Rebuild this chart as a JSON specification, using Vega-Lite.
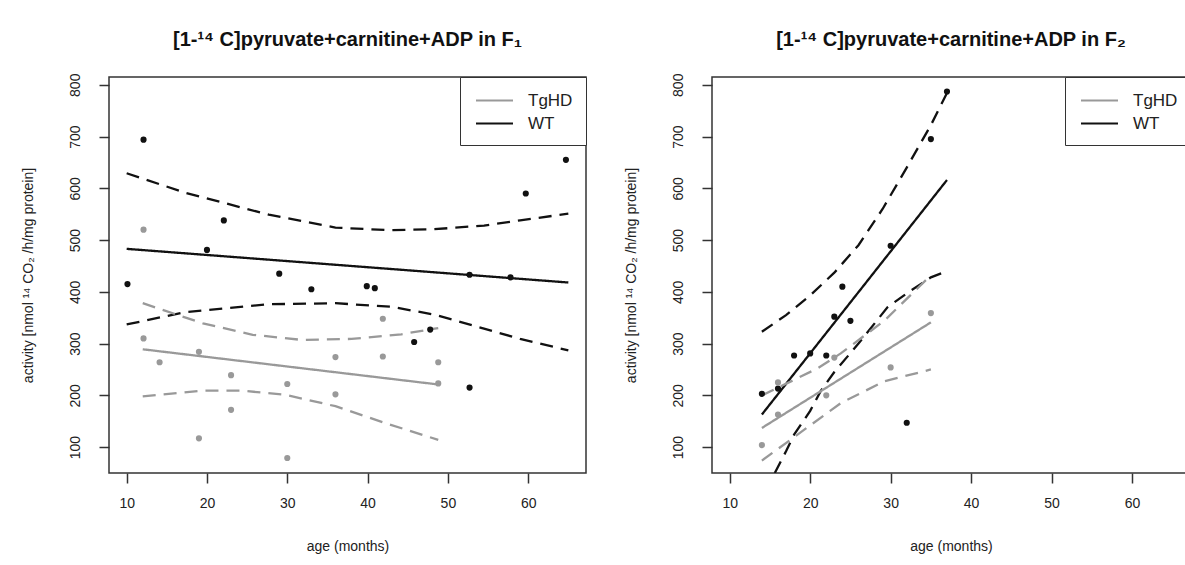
{
  "$schema": "https://vega.github.io/schema/vega-lite/v6.json",
  "background": "white",
  "padding": {"left": 20, "top": 28, "right": 0, "bottom": 0},
  "datasets": {
    "f1_points": [
      {"group": "WT", "age": 10.1, "activity": 415},
      {"group": "WT", "age": 12.1, "activity": 694},
      {"group": "WT", "age": 20, "activity": 481},
      {"group": "WT", "age": 22.1, "activity": 538},
      {"group": "WT", "age": 29, "activity": 435},
      {"group": "WT", "age": 33, "activity": 405},
      {"group": "WT", "age": 39.9, "activity": 411},
      {"group": "WT", "age": 40.9, "activity": 407},
      {"group": "WT", "age": 45.8, "activity": 303},
      {"group": "WT", "age": 47.8, "activity": 327},
      {"group": "WT", "age": 52.7, "activity": 433},
      {"group": "WT", "age": 52.7, "activity": 215},
      {"group": "WT", "age": 57.8, "activity": 428},
      {"group": "WT", "age": 59.7, "activity": 590},
      {"group": "WT", "age": 64.7, "activity": 655},
      {"group": "TgHD", "age": 12.1, "activity": 520},
      {"group": "TgHD", "age": 12.1, "activity": 310},
      {"group": "TgHD", "age": 14.1, "activity": 264},
      {"group": "TgHD", "age": 19, "activity": 284},
      {"group": "TgHD", "age": 19, "activity": 117},
      {"group": "TgHD", "age": 23, "activity": 239},
      {"group": "TgHD", "age": 23, "activity": 172},
      {"group": "TgHD", "age": 30, "activity": 222},
      {"group": "TgHD", "age": 30, "activity": 79},
      {"group": "TgHD", "age": 36, "activity": 274},
      {"group": "TgHD", "age": 36, "activity": 202},
      {"group": "TgHD", "age": 41.9, "activity": 348},
      {"group": "TgHD", "age": 41.9, "activity": 275},
      {"group": "TgHD", "age": 48.8, "activity": 264},
      {"group": "TgHD", "age": 48.8, "activity": 223}
    ],
    "f1_lines": [
      {"group": "WT", "band": "fit", "age": 10, "activity": 483},
      {"group": "WT", "band": "fit", "age": 65, "activity": 418},
      {"group": "WT", "band": "hi", "age": 10, "activity": 629},
      {"group": "WT", "band": "hi", "age": 17.4, "activity": 591},
      {"group": "WT", "band": "hi", "age": 27.7, "activity": 549},
      {"group": "WT", "band": "hi", "age": 36, "activity": 524},
      {"group": "WT", "band": "hi", "age": 43, "activity": 519},
      {"group": "WT", "band": "hi", "age": 48.3, "activity": 521},
      {"group": "WT", "band": "hi", "age": 54.5, "activity": 528},
      {"group": "WT", "band": "hi", "age": 59, "activity": 538},
      {"group": "WT", "band": "hi", "age": 65, "activity": 551},
      {"group": "WT", "band": "lo", "age": 10, "activity": 337},
      {"group": "WT", "band": "lo", "age": 17.4, "activity": 361},
      {"group": "WT", "band": "lo", "age": 27.7, "activity": 376},
      {"group": "WT", "band": "lo", "age": 36, "activity": 378},
      {"group": "WT", "band": "lo", "age": 43, "activity": 371},
      {"group": "WT", "band": "lo", "age": 48.3, "activity": 356},
      {"group": "WT", "band": "lo", "age": 54.5, "activity": 329},
      {"group": "WT", "band": "lo", "age": 59, "activity": 309},
      {"group": "WT", "band": "lo", "age": 65, "activity": 287},
      {"group": "TgHD", "band": "fit", "age": 12, "activity": 289},
      {"group": "TgHD", "band": "fit", "age": 48.8, "activity": 221},
      {"group": "TgHD", "band": "hi", "age": 12, "activity": 378},
      {"group": "TgHD", "band": "hi", "age": 19.5, "activity": 339},
      {"group": "TgHD", "band": "hi", "age": 25.7, "activity": 317},
      {"group": "TgHD", "band": "hi", "age": 31.9, "activity": 307},
      {"group": "TgHD", "band": "hi", "age": 38, "activity": 309},
      {"group": "TgHD", "band": "hi", "age": 44.2, "activity": 318},
      {"group": "TgHD", "band": "hi", "age": 48.8, "activity": 330},
      {"group": "TgHD", "band": "lo", "age": 12, "activity": 198},
      {"group": "TgHD", "band": "lo", "age": 19.5, "activity": 209},
      {"group": "TgHD", "band": "lo", "age": 24.4, "activity": 209},
      {"group": "TgHD", "band": "lo", "age": 29.8, "activity": 201},
      {"group": "TgHD", "band": "lo", "age": 36, "activity": 179},
      {"group": "TgHD", "band": "lo", "age": 42.1, "activity": 147},
      {"group": "TgHD", "band": "lo", "age": 48.8, "activity": 114}
    ],
    "f2_points": [
      {"group": "WT", "age": 14, "activity": 203},
      {"group": "WT", "age": 16, "activity": 213},
      {"group": "WT", "age": 18, "activity": 277},
      {"group": "WT", "age": 20, "activity": 281},
      {"group": "WT", "age": 22, "activity": 277},
      {"group": "WT", "age": 23, "activity": 352},
      {"group": "WT", "age": 24, "activity": 410},
      {"group": "WT", "age": 25, "activity": 344},
      {"group": "WT", "age": 30, "activity": 489},
      {"group": "WT", "age": 32, "activity": 147},
      {"group": "WT", "age": 35, "activity": 695},
      {"group": "WT", "age": 37, "activity": 787},
      {"group": "TgHD", "age": 14, "activity": 104},
      {"group": "TgHD", "age": 16, "activity": 225},
      {"group": "TgHD", "age": 16, "activity": 163},
      {"group": "TgHD", "age": 22, "activity": 200},
      {"group": "TgHD", "age": 23, "activity": 273},
      {"group": "TgHD", "age": 30, "activity": 254},
      {"group": "TgHD", "age": 35, "activity": 359}
    ],
    "f2_lines": [
      {"group": "WT", "band": "fit", "age": 14, "activity": 163},
      {"group": "WT", "band": "fit", "age": 37, "activity": 616},
      {"group": "WT", "band": "hi", "age": 14, "activity": 323},
      {"group": "WT", "band": "hi", "age": 17, "activity": 355},
      {"group": "WT", "band": "hi", "age": 20, "activity": 393},
      {"group": "WT", "band": "hi", "age": 23, "activity": 437},
      {"group": "WT", "band": "hi", "age": 26, "activity": 490},
      {"group": "WT", "band": "hi", "age": 29, "activity": 560},
      {"group": "WT", "band": "hi", "age": 32, "activity": 640},
      {"group": "WT", "band": "hi", "age": 35, "activity": 722},
      {"group": "WT", "band": "hi", "age": 37, "activity": 784},
      {"group": "WT", "band": "lo", "age": 15.6, "activity": 50},
      {"group": "WT", "band": "lo", "age": 17, "activity": 92},
      {"group": "WT", "band": "lo", "age": 18, "activity": 124},
      {"group": "WT", "band": "lo", "age": 20, "activity": 170},
      {"group": "WT", "band": "lo", "age": 21.3, "activity": 208},
      {"group": "WT", "band": "lo", "age": 23, "activity": 245},
      {"group": "WT", "band": "lo", "age": 26, "activity": 300},
      {"group": "WT", "band": "lo", "age": 29.6, "activity": 370},
      {"group": "WT", "band": "lo", "age": 32, "activity": 397},
      {"group": "WT", "band": "lo", "age": 35, "activity": 428},
      {"group": "WT", "band": "lo", "age": 37, "activity": 440},
      {"group": "TgHD", "band": "fit", "age": 14, "activity": 137},
      {"group": "TgHD", "band": "fit", "age": 35, "activity": 341},
      {"group": "TgHD", "band": "hi", "age": 14, "activity": 200},
      {"group": "TgHD", "band": "hi", "age": 15.5, "activity": 211},
      {"group": "TgHD", "band": "hi", "age": 20.9, "activity": 252},
      {"group": "TgHD", "band": "hi", "age": 23.8, "activity": 281},
      {"group": "TgHD", "band": "hi", "age": 29.2, "activity": 344},
      {"group": "TgHD", "band": "hi", "age": 35, "activity": 432},
      {"group": "TgHD", "band": "lo", "age": 14, "activity": 74},
      {"group": "TgHD", "band": "lo", "age": 23.8, "activity": 185},
      {"group": "TgHD", "band": "lo", "age": 29.2, "activity": 227},
      {"group": "TgHD", "band": "lo", "age": 35, "activity": 250}
    ]
  },
  "hconcat": [
    {
      "width": 477,
      "height": 396,
      "title": {"text": "[1-¹⁴ C]pyruvate+carnitine+ADP in F₁"},
      "layer": [
        {
          "data": {"name": "f1_lines"},
          "mark": {"type": "line", "strokeWidth": 2.3, "clip": true},
          "encoding": {
            "x": {"field": "age", "type": "quantitative", "scale": {"domain": [7.8, 67.2], "nice": false, "zero": false}, "axis": {"values": [10, 20, 30, 40, 50, 60], "title": "age (months)"}},
            "y": {"field": "activity", "type": "quantitative", "scale": {"domain": [50, 815], "nice": false, "zero": false}, "axis": {"values": [100, 200, 300, 400, 500, 600, 700, 800], "title": "activity [nmol ¹⁴ CO₂ /h/mg protein]"}},
            "color": {"field": "group", "type": "nominal", "scale": {"domain": ["TgHD", "WT"], "range": ["#999999", "#111111"]},
              "legend": {"orient": "none", "legendX": 351, "legendY": 0}},
            "strokeDash": {"field": "band", "type": "nominal", "scale": {"domain": ["fit", "hi", "lo"], "range": [[1, 0], [13, 8], [13, 8]]}, "legend": null}
          }
        },
        {
          "data": {"name": "f1_points"},
          "mark": {"type": "circle", "size": 38, "opacity": 1},
          "encoding": {
            "x": {"field": "age", "type": "quantitative"},
            "y": {"field": "activity", "type": "quantitative"},
            "color": {"field": "group", "type": "nominal",
              "legend": {"orient": "none", "legendX": 351, "legendY": 0}}
          }
        }
      ]
    },
    {
      "width": 478,
      "height": 396,
      "title": {"text": "[1-¹⁴ C]pyruvate+carnitine+ADP in F₂"},
      "layer": [
        {
          "data": {"name": "f2_lines"},
          "mark": {"type": "line", "strokeWidth": 2.3, "clip": true},
          "encoding": {
            "x": {"field": "age", "type": "quantitative", "scale": {"domain": [7.8, 67.2], "nice": false, "zero": false}, "axis": {"values": [10, 20, 30, 40, 50, 60], "title": "age (months)"}},
            "y": {"field": "activity", "type": "quantitative", "scale": {"domain": [50, 815], "nice": false, "zero": false}, "axis": {"values": [100, 200, 300, 400, 500, 600, 700, 800], "title": "activity [nmol ¹⁴ CO₂ /h/mg protein]"}},
            "color": {"field": "group", "type": "nominal", "scale": {"domain": ["TgHD", "WT"], "range": ["#999999", "#111111"]},
              "legend": {"orient": "none", "legendX": 353, "legendY": 0}},
            "strokeDash": {"field": "band", "type": "nominal", "scale": {"domain": ["fit", "hi", "lo"], "range": [[1, 0], [13, 8], [13, 8]]}, "legend": null}
          }
        },
        {
          "data": {"name": "f2_points"},
          "mark": {"type": "circle", "size": 38, "opacity": 1},
          "encoding": {
            "x": {"field": "age", "type": "quantitative"},
            "y": {"field": "activity", "type": "quantitative"},
            "color": {"field": "group", "type": "nominal",
              "legend": {"orient": "none", "legendX": 353, "legendY": 0}}
          }
        }
      ]
    }
  ],
  "spacing": 126,
  "bounds": "flush",
  "resolve": {"scale": {"color": "independent", "x": "independent", "y": "independent"}, "legend": {"color": "independent"}},
  "config": {
    "font": "Liberation Sans",
    "view": {"stroke": "#333333", "strokeWidth": 1.5},
    "title": {"fontSize": 20, "fontWeight": "bold", "color": "#111111", "anchor": "middle", "frame": "group", "baseline": "alphabetic", "offset": 23.5},
    "axis": {"grid": false, "domain": false, "tickColor": "#333333", "tickWidth": 1.5, "tickSize": 10, "labelFontSize": 14, "titleFontSize": 14, "labelColor": "#222222", "titleColor": "#222222", "titleFontWeight": "normal"},
    "axisX": {"labelPadding": 13, "labelBaseline": "top", "titleY": 73, "titleBaseline": "middle"},
    "axisY": {"labelAngle": 270, "labelAlign": "center", "labelBaseline": "alphabetic", "labelPadding": 20, "titleX": -81, "titleY": 198, "titleAngle": 270, "titleAlign": "center", "titleBaseline": "middle"},
    "legend": {"title": null, "symbolType": "M-2,0H2", "symbolSize": 342, "symbolStrokeWidth": 2, "symbolOffset": 11, "labelFontSize": 17, "labelColor": "#222222", "padding": 13, "strokeColor": "#333333", "fillColor": "white", "rowPadding": 4, "labelOffset": 23}
  }
}
